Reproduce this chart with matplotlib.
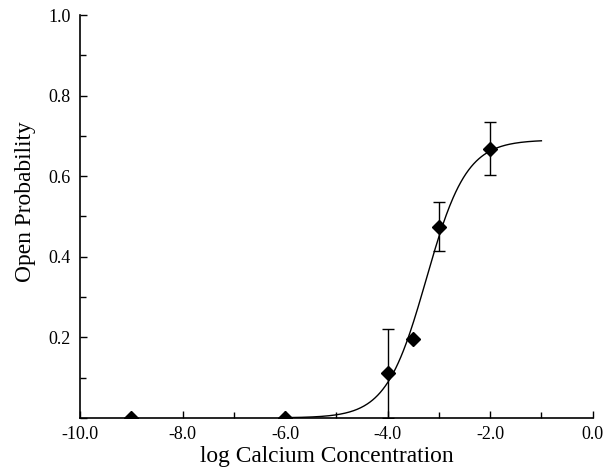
import numpy as np
import matplotlib
matplotlib.use("Agg")
import matplotlib.pyplot as plt
from matplotlib.ticker import MultipleLocator, FormatStrFormatter

# measured open probability vs log [Ca2+]
log_ca = [-9.0, -6.0, -4.0, -3.5, -3.0, -2.0]
p_open = [0.0, 0.0, 0.112, 0.197, 0.475, 0.667]
err_low = [0.0, 0.0, 0.112, 0.0, 0.062, 0.065]
err_high = [0.0, 0.0, 0.108, 0.0, 0.062, 0.068]

# Hill fit parameters
p_max = 0.69
log_ec50 = -3.245
hill_n = 1.11
fit_range = (-6.0, -1.0)

plt.rcParams['font.family'] = ['Liberation Serif', 'DejaVu Serif']
plt.rcParams['axes.unicode_minus'] = False

fig = plt.figure(figsize=(6.11, 4.69), dpi=100)
ax = fig.add_axes([0.131, 0.109, 0.839, 0.859])

# fitted curve
xf = np.linspace(fit_range[0], fit_range[1], 300)
yf = p_max / (1.0 + 10 ** (hill_n * (log_ec50 - xf)))
ax.plot(xf, yf, color='black', lw=1.0)

# data points with error bars
ax.errorbar(log_ca, p_open, yerr=[err_low, err_high], fmt='D', color='black',
            markersize=7, ecolor='black', elinewidth=1.0, capsize=4, capthick=1.0)

ax.set_xlim(-10, 0)
ax.set_ylim(0, 1.0)

ax.spines['top'].set_visible(False)
ax.spines['right'].set_visible(False)
ax.spines['left'].set_linewidth(1.2)
ax.spines['bottom'].set_linewidth(1.2)

ax.xaxis.set_major_locator(MultipleLocator(2.0))
ax.xaxis.set_minor_locator(MultipleLocator(1.0))
ax.yaxis.set_major_locator(MultipleLocator(0.2))
ax.yaxis.set_minor_locator(MultipleLocator(0.1))
ax.xaxis.set_major_formatter(FormatStrFormatter('%.1f'))
ax.yaxis.set_major_formatter(plt.FuncFormatter(lambda v, p: '' if abs(v) < 1e-9 else '%.1f' % v))

ax.tick_params(which='both', direction='in', width=1.0, labelsize=13)
ax.tick_params(which='major', length=5)
ax.tick_params(which='minor', length=4)
ax.tick_params(axis='y', which='major', pad=7)
ax.tick_params(axis='x', which='major', pad=6)

ax.set_xlabel('log Calcium Concentration', fontsize=16.8)
ax.set_ylabel('Open Probability', fontsize=16.8)
ax.xaxis.set_label_coords(0.482, -0.071)
ax.yaxis.set_label_coords(-0.086, 0.536)

fig.savefig('out.png', dpi=100)
